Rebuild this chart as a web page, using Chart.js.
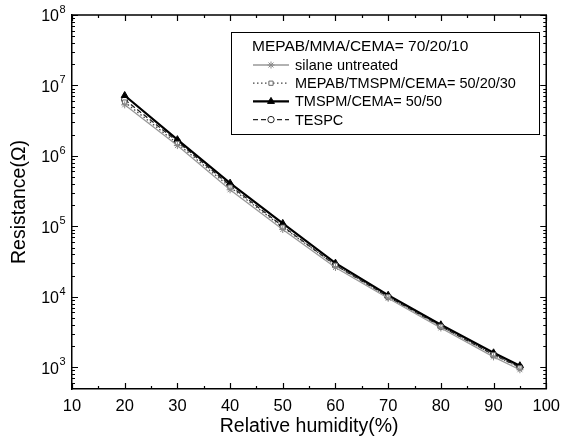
<!DOCTYPE html>
<html>
<head>
<meta charset="utf-8">
<script src="https://cdn.jsdelivr.net/npm/chart.js@4/dist/chart.umd.min.js"></script>
<style>
  html, body { margin: 0; padding: 0; background: #fff; }
  #wrap { width: 568px; height: 448px; }
</style>
</head>
<body>
<div id="wrap"><canvas id="humidityChart" width="568" height="448"></canvas></div>
<script>
// Data
const humidity = [20, 30, 40, 50, 60, 70, 80, 90, 95];
const silaneUntreated = [5.3e6, 1.4e6, 3.3e5, 9.0e4, 2.6e4, 9.5e3, 3.6e3, 1.4e3, 920];
const mepabTmspmCema = [5.8e6, 1.5e6, 3.6e5, 9.7e4, 2.8e4, 1.0e4, 3.8e3, 1.5e3, 980];
const tmspmCema = [7.2e6, 1.7e6, 4.1e5, 1.1e5, 3.0e4, 1.05e4, 4.0e3, 1.6e3, 1.05e3];
const tespc = [6.3e6, 1.6e6, 3.8e5, 1.0e5, 2.8e4, 1.0e4, 3.8e3, 1.5e3, 1.0e3];

const xTicks = [10, 20, 30, 40, 50, 60, 70, 80, 90, 100];
const yExponents = [3, 4, 5, 6, 7, 8];
const legendTitle = "MEPAB/MMA/CEMA= 70/20/10";

const FONT = "'Liberation Sans', Arial, sans-serif";

function toPoints(values) {
  return humidity.map((h, i) => ({ x: h, y: values[i] }));
}

// Axis frame, inward ticks, superscript y labels and the boxed legend
const framePlugin = {
  id: "frame",
  afterDraw(chart) {
    const ctx = chart.ctx;
    const area = chart.chartArea;
    const xs = chart.scales.x;
    const ys = chart.scales.y;

    ctx.save();
    ctx.strokeStyle = "#000";
    ctx.lineWidth = 1.5;
    ctx.beginPath();
    ctx.moveTo(area.left, area.top);
    ctx.lineTo(area.right, area.top);
    ctx.lineTo(area.right, area.bottom);
    ctx.stroke();

    // x ticks (bottom and top, pointing inward)
    ctx.lineWidth = 1.2;
    ctx.beginPath();
    for (let v = xs.min; v <= xs.max; v += 5) {
      const px = Math.round(xs.getPixelForValue(v)) + 0.5;
      const len = v % 10 === 0 ? 6 : 3;
      ctx.moveTo(px, area.bottom);
      ctx.lineTo(px, area.bottom - len);
      ctx.moveTo(px, area.top);
      ctx.lineTo(px, area.top + len);
    }
    // y ticks (left and right, pointing inward)
    for (let d = 2; d <= 8; d++) {
      for (let m = 1; m <= 9; m++) {
        const v = m * Math.pow(10, d);
        if (v < ys.min || v > ys.max) continue;
        const py = Math.round(ys.getPixelForValue(v)) + 0.5;
        const len = m === 1 ? 6 : 3;
        ctx.moveTo(area.left, py);
        ctx.lineTo(area.left + len, py);
        ctx.moveTo(area.right, py);
        ctx.lineTo(area.right - len, py);
      }
    }
    ctx.stroke();

    // y tick labels as 10 with a raised exponent
    ctx.fillStyle = "#000";
    yExponents.forEach((e) => {
      const py = ys.getPixelForValue(Math.pow(10, e));
      ctx.font = "16px " + FONT;
      ctx.textAlign = "right";
      ctx.textBaseline = "middle";
      ctx.fillText("10", 59, py + 2);
      ctx.font = "11px " + FONT;
      ctx.textAlign = "left";
      ctx.fillText(String(e), 59.5, py - 5);
    });

    // legend box
    const box = { x: 231.5, y: 32.5, w: 308, h: 102 };
    ctx.lineWidth = 1;
    ctx.strokeRect(box.x, box.y, box.w, box.h);
    ctx.font = "15.5px " + FONT;
    ctx.textAlign = "left";
    ctx.textBaseline = "middle";
    ctx.fillText(legendTitle, 252, 47);

    chart.data.datasets.forEach((ds, i) => {
      const rowY = 65 + i * 18.2;
      ctx.save();
      ctx.strokeStyle = ds.borderColor;
      ctx.lineWidth = ds.borderWidth;
      ctx.setLineDash(ds.borderDash || []);
      ctx.beginPath();
      ctx.moveTo(253, rowY);
      ctx.lineTo(289, rowY);
      ctx.stroke();
      ctx.setLineDash([]);
      ctx.fillStyle = ds.pointBackgroundColor;
      ctx.strokeStyle = ds.pointBorderColor;
      ctx.lineWidth = ds.pointBorderWidth;
      Chart.helpers.drawPoint(ctx, {
        pointStyle: ds.pointStyle,
        radius: ds.pointRadius,
        borderWidth: ds.pointBorderWidth,
        rotation: 0,
      }, 271, rowY);
      ctx.restore();
      ctx.fillStyle = "#000";
      ctx.font = "14.5px " + FONT;
      ctx.fillText(ds.label, 295, rowY + 1);
    });
    ctx.restore();
  },
};

const ctx = document.getElementById("humidityChart").getContext("2d");

new Chart(ctx, {
  type: "line",
  data: {
    datasets: [
      {
        label: "silane untreated",
        data: toPoints(silaneUntreated),
        borderColor: "#999",
        borderWidth: 1.3,
        pointStyle: "star",
        pointRadius: 3.5,
        pointBackgroundColor: "#999",
        pointBorderColor: "#888",
        pointBorderWidth: 1,
      },
      {
        label: "MEPAB/TMSPM/CEMA= 50/20/30",
        data: toPoints(mepabTmspmCema),
        borderColor: "#444",
        borderWidth: 1.3,
        borderDash: [1.5, 2.5],
        pointStyle: "rect",
        pointRadius: 3,
        pointBackgroundColor: "#fff",
        pointBorderColor: "#666",
        pointBorderWidth: 1,
      },
      {
        label: "TMSPM/CEMA= 50/50",
        data: toPoints(tmspmCema),
        borderColor: "#000",
        borderWidth: 2.2,
        pointStyle: "triangle",
        pointRadius: 4,
        pointBackgroundColor: "#000",
        pointBorderColor: "#000",
        pointBorderWidth: 1,
      },
      {
        label: "TESPC",
        data: toPoints(tespc),
        borderColor: "#222",
        borderWidth: 1.3,
        borderDash: [5, 3],
        pointStyle: "circle",
        pointRadius: 3.2,
        pointBackgroundColor: "#fff",
        pointBorderColor: "#222",
        pointBorderWidth: 1,
      },
    ],
  },
  options: {
    responsive: false,
    animation: false,
    devicePixelRatio: 1,
    layout: { padding: { top: 15, right: 12, left: 0, bottom: 0 } },
    plugins: {
      legend: { display: false },
      tooltip: { enabled: false },
    },
    scales: {
      x: {
        type: "linear",
        min: 10,
        max: 100,
        grid: { display: false, drawTicks: false },
        border: { color: "#000", width: 1.5 },
        ticks: {
          stepSize: 10,
          color: "#000",
          padding: 8,
          font: { family: FONT, size: 16.5 },
          callback: (v) => (xTicks.includes(v) ? String(v) : ""),
        },
        title: {
          display: true,
          text: "Relative humidity(%)",
          color: "#000",
          font: { family: FONT, size: 19.5 },
          padding: { top: 0, bottom: 10 },
        },
        afterFit(scale) {
          scale.height = 59;
        },
      },
      y: {
        type: "logarithmic",
        min: 490,
        max: 1e8,
        grid: { display: false, drawTicks: false },
        border: { color: "#000", width: 1.5 },
        ticks: { display: false },
        title: {
          display: true,
          text: "Resistance(Ω)",
          color: "#000",
          font: { family: FONT, size: 19.5 },
          padding: { top: 8, bottom: 0 },
        },
        afterFit(scale) {
          scale.width = 72;
        },
      },
    },
  },
  plugins: [framePlugin],
});
</script>
</body>
</html>
